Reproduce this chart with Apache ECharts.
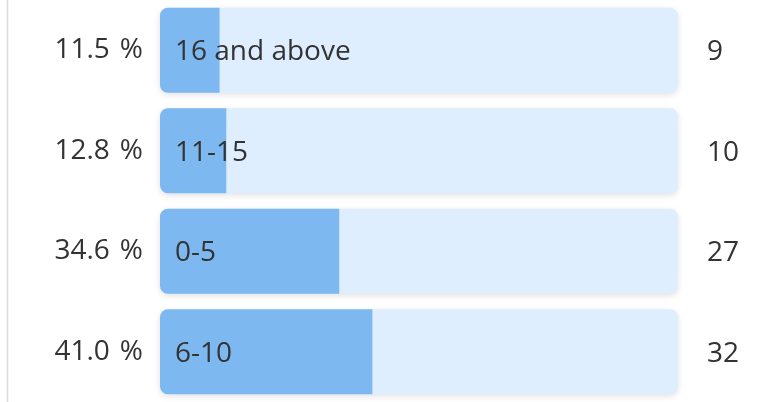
<!DOCTYPE html>
<html>
<head>
<meta charset="utf-8">
<script src="https://cdn.jsdelivr.net/npm/echarts@6/dist/echarts.min.js"></script>
<style>
  html, body { margin: 0; padding: 0; background: #fff; }
  #chart { width: 769px; height: 402px; }
</style>
</head>
<body>
<div id="chart"></div>
<script>
// answer groups, top to bottom
const categories = ['16 and above', '11-15', '0-5', '6-10'];
const counts = [9, 10, 27, 32];
const percents = [11.5, 12.8, 34.6, 41.0];
const fullScale = [100, 100, 100, 100];

const fontFamily = '"Open Sans", "Noto Sans", sans-serif';
const fontSize = 28;
const textColor = '#333333';

const chart = echarts.init(document.getElementById('chart'), null, { renderer: 'canvas' });

chart.setOption({
    animation: false,
    backgroundColor: '#ffffff',
    grid: { left: 160, right: 91, top: 0, height: 404 },
    xAxis: { type: 'value', min: 0, max: 100, show: false },
    yAxis: {
        type: 'category',
        data: categories,
        inverse: true,
        axisLine: { show: false },
        axisTick: { show: false },
        axisLabel: {
            margin: 17,
            fontSize: fontSize,
            fontFamily: fontFamily,
            color: textColor,
            padding: [4, 0, 0, 0],
            formatter: function (val, idx) {
                return percents[idx].toFixed(1) + ' \u200A%';
            }
        }
    },
    graphic: [{
        type: 'line',
        shape: { x1: 7.5, y1: 0, x2: 7.5, y2: 402 },
        style: { stroke: '#dcdcdc', lineWidth: 1.5 },
        silent: true
    }],
    series: [
        {
            // light track behind each answer
            type: 'bar',
            data: fullScale,
            barWidth: 85,
            barGap: '-100%',
            silent: true,
            itemStyle: {
                color: '#deeefe',
                borderRadius: 8,
                shadowBlur: 6,
                shadowOffsetY: 2,
                shadowColor: 'rgba(0,0,0,0.12)'
            },
            label: {
                show: true,
                position: 'right',
                distance: 29,
                offset: [0, 2],
                fontSize: fontSize,
                fontFamily: fontFamily,
                color: textColor,
                formatter: function (p) { return String(counts[p.dataIndex]); }
            }
        },
        {
            type: 'bar',
            data: percents,
            barWidth: 85,
            silent: true,
            z: 3,
            itemStyle: {
                color: '#7eb8f0',
                borderRadius: [8, 0, 0, 8]
            },
            label: {
                show: true,
                position: 'insideLeft',
                distance: 15,
                offset: [0, 2],
                fontSize: fontSize,
                fontFamily: fontFamily,
                color: textColor,
                formatter: function (p) { return categories[p.dataIndex]; }
            }
        }
    ]
});
</script>
</body>
</html>
